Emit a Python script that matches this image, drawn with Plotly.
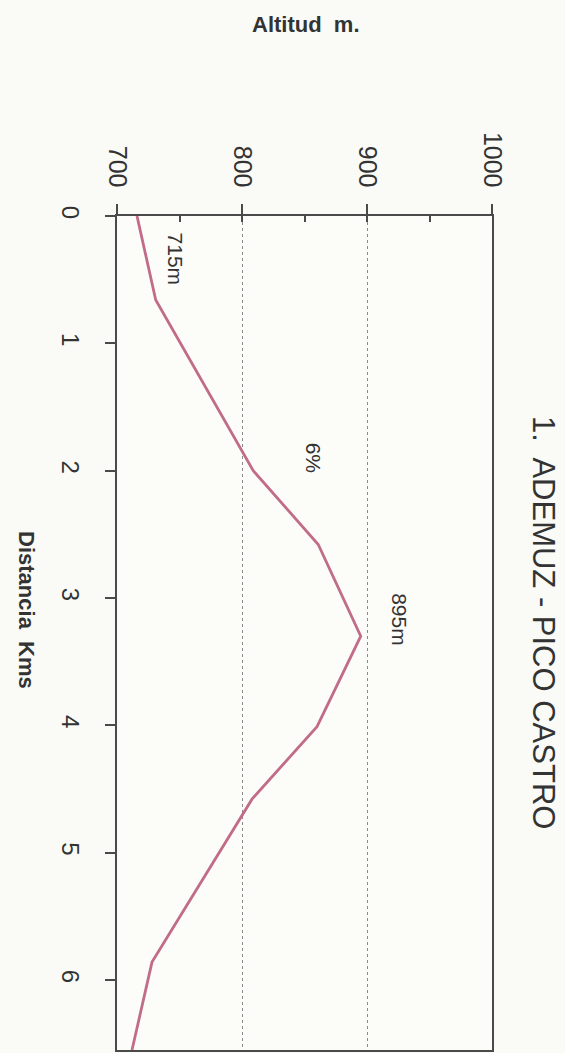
import plotly.graph_objects as go

# Data read from the (rotated) elevation profile
distance_km = [0, 0.66, 2.0, 2.58, 3.30, 4.01, 4.58, 5.86, 6.55]
altitude_m = [716, 731, 809, 861, 895, 860, 808, 728, 712]

alt_ticks = [700, 800, 900, 1000]
alt_minor = [700, 750, 800, 850, 900, 950, 1000]
dist_ticks = [0, 1, 2, 3, 4, 5, 6]

labels_text = ["715m", "6%", "895m"]
labels_alt = [747, 857, 926]
labels_dist = [0.34, 1.90, 3.17]

FONT = "Liberation Sans, Arial, sans-serif"
TXT = "#333333"
AX = "#4a4a4a"
BG = "#fafbf6"

fig = go.Figure()
fig.add_trace(go.Scatter(
    x=altitude_m, y=distance_km, mode="lines",
    line=dict(color="#c16c88", width=2.8),
    showlegend=False, hoverinfo="skip",
))
# invisible trace to anchor the secondary (inside-tick) axis
fig.add_trace(go.Scatter(
    x=[altitude_m[0]], y=[distance_km[0]], xaxis="x2", mode="markers",
    marker=dict(opacity=0), showlegend=False, hoverinfo="skip",
))

for t, a, d in zip(labels_text, labels_alt, labels_dist):
    fig.add_annotation(x=a, y=d, xref="x", yref="y", text=t, showarrow=False,
                       textangle=90, xanchor="center", yanchor="middle",
                       font=dict(family=FONT, size=21, color=TXT))

fig.add_annotation(x=(544 - 117) / 375, y=(1052 - 623) / 836, xref="paper", yref="paper",
                   text="1.  ADEMUZ - PICO CASTRO", showarrow=False, textangle=90,
                   xanchor="center", yanchor="middle", borderpad=0,
                   font=dict(family=FONT, size=31, color=TXT))
fig.add_annotation(x=(306 - 117) / 375, y=(1052 - 24) / 836, xref="paper", yref="paper",
                   text="<b>Altitud  m.</b>", showarrow=False,
                   xanchor="center", yanchor="middle",
                   font=dict(family=FONT, size=22, color=TXT))
fig.add_annotation(x=(27 - 117) / 375, y=(1052 - 611) / 836, xref="paper", yref="paper",
                   text="<b>Distancia  Kms</b>", showarrow=False, textangle=90,
                   xanchor="center", yanchor="middle",
                   font=dict(family=FONT, size=22, color=TXT))

fig.update_layout(
    width=565, height=1053,
    margin=dict(l=117, r=73, t=216, b=1),
    paper_bgcolor=BG, plot_bgcolor="#fcfdf9",
    xaxis=dict(
        range=[700, 1000], side="top", tickvals=alt_ticks,
        ticks="outside", ticklen=10, tickwidth=1.5, tickcolor=AX,
        tickangle=90, ticklabelstandoff=8,
        tickfont=dict(family=FONT, size=25, color=TXT),
        showline=True, linecolor=AX, linewidth=1.5, mirror=True,
        showgrid=True, gridcolor="#8a8a8a", griddash="dot", gridwidth=1,
        zeroline=False, fixedrange=True,
    ),
    xaxis2=dict(
        range=[700, 1000], overlaying="x", side="top", tickvals=alt_minor,
        ticks="inside", ticklen=6, tickwidth=1.5, tickcolor=AX,
        showticklabels=False, showgrid=False, showline=False, zeroline=False,
        fixedrange=True,
    ),
    yaxis=dict(
        range=[6.55, 0], tickvals=dist_ticks,
        ticks="outside", ticklen=10, tickwidth=1.5, tickcolor=AX,
        tickangle=90, ticklabelstandoff=14,
        tickfont=dict(family=FONT, size=24, color=TXT),
        showline=True, linecolor=AX, linewidth=1.5, mirror=True,
        showgrid=False, zeroline=False, fixedrange=True,
    ),
)

fig.write_html(
    "out.html",
    config={"displayModeBar": False},
    post_script="document.body.style.margin='0px';"
                "document.body.style.background='" + BG + "';",
)
